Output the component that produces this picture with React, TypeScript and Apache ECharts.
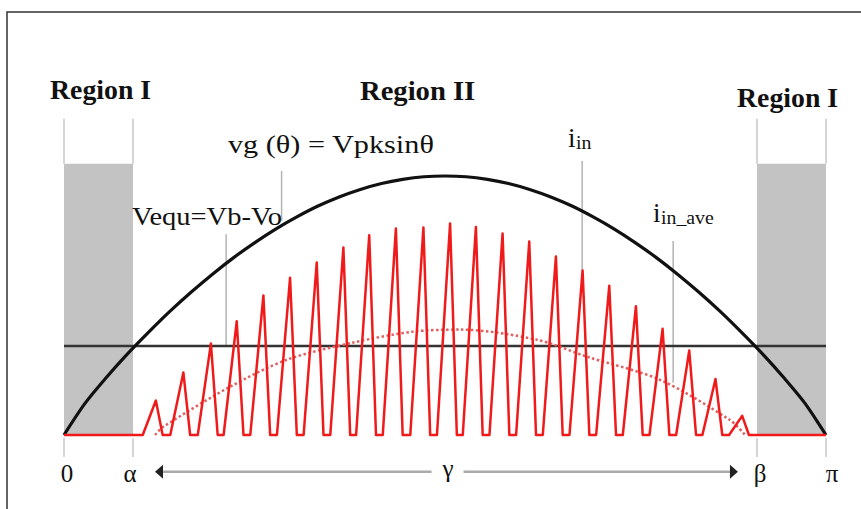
import React, { useEffect, useRef } from "react";
import * as echarts from "echarts";

// Line angle θ in degrees (0 … 180 = 0 … π) and the rectified line voltage, peak = 100
const thetaDeg = [0, 5, 10, 15, 20, 25, 30, 35, 40, 45, 50, 55, 60, 65, 70, 75, 80, 85, 90,
  95, 100, 105, 110, 115, 120, 125, 130, 135, 140, 145, 150, 155, 160, 165, 170, 175, 180];
const vgValues = [0, 12.3, 22.2, 31.3, 39.7, 47.7, 55.1, 62.0, 68.4, 74.2, 79.5, 84.2, 88.4, 91.9, 94.8, 97.1, 98.7, 99.7, 100,
  99.7, 98.7, 97.1, 94.8, 91.9, 88.4, 84.2, 79.5, 74.2, 68.4, 62.0, 55.1, 47.7, 39.7, 31.3, 22.2, 12.3, 0];

// Equivalent voltage Vb - Vo and the conduction limits α, β
const vEqu = 34.4;
const alphaDeg = 16.3;
const betaDeg = 163.7;
const regionTop = 104.7;

// Switching-cycle current peaks of i_in
const spikeCentres = [21.7, 28.2, 34.7, 40.8, 47.1, 53.4, 59.7, 66.0, 72.1, 78.4, 84.9, 91.2, 97.3, 103.6, 109.9, 116.2, 122.5, 128.8, 135.1, 141.4, 147.7, 153.9, 160.2];
const spikePeaks = [13.3, 24.1, 35.3, 43.9, 53.9, 60.7, 66.6, 72.4, 77.1, 79.7, 80.1, 81.7, 80.3, 77.8, 74.7, 68.9, 63.5, 57.6, 49.7, 41.0, 32.6, 21.6, 7.4];

// Averaged input current i_in_ave
const aveTheta = [21.5, 23.4, 39.2, 52.7, 68.3, 82.4, 93.5, 111.7, 123.6, 140.8, 157.3, 160.9];
const aveValues = [0, 3.1, 18.6, 29.1, 35.7, 39.9, 40.7, 36.8, 30.2, 21.3, 5.8, 0];

// Leader lines: [θ, from, to]
const leaders = [
  [51.4, 102, 82.6],
  [38.3, 77.5, 34.4],
  [122.4, 105.8, 63.6],
  [143.9, 74.9, 20.2],
];
// Region bracket ticks: [θ, from, to]
const bracketTicks = [
  [0, 104.7, 122.1], [alphaDeg, 104.7, 122.1], [betaDeg, 104.7, 122.1], [180, 104.7, 122.1],
  [0, -1.2, -8.5], [alphaDeg, -1.2, -8.5], [betaDeg, -1.2, -8.5], [180, -1.2, -8.5],
];
// γ span arrow: [start, end, level, label position]
const gammaSpan = [[21.5, 159.2, -14.2, 90.6]];

const RISE = 3.1;
const FALL = 1.6;

const SERIF = '"Liberation Serif", "DejaVu Serif", serif';

function currentPath(): number[][] {
  const pts: number[][] = [[0, 0]];
  spikeCentres.forEach((c, i) => {
    pts.push([c - RISE, 0], [c, spikePeaks[i]], [c + FALL, 0]);
  });
  pts.push([180, 0]);
  return pts;
}

function label(text: string, x: number, y: number, size: number, opts: any = {}) {
  const align = opts.align || "left";
  return {
    type: "text",
    x,
    y,
    scaleX: opts.scaleX ?? 1.1,
    z: 10,
    style: {
      text,
      fontSize: size,
      fontFamily: SERIF,
      fontWeight: opts.bold ? "bold" : "normal",
      fill: "#111",
      align,
      textAlign: align,
      verticalAlign: "middle",
      textVerticalAlign: "middle",
    },
  };
}

export default function App() {
  const ref = useRef<HTMLDivElement>(null);

  useEffect(() => {
    if (!ref.current) return;
    const chart = echarts.init(ref.current, undefined, { renderer: "svg" });

    const vgData = thetaDeg.map((t, i) => [t, vgValues[i]]);
    const aveData = aveTheta.map((t, i) => [t, aveValues[i]]);

    chart.setOption({
      animation: false,
      grid: { left: 64, width: 762, top: 46.5, height: 440.3 },
      xAxis: { type: "value", min: 0, max: 180, show: false },
      yAxis: { type: "value", min: -20, max: 150, show: false },
      graphic: [
        {
          type: "polyline",
          shape: { points: [[7, 600], [7, 12], [900, 12]] },
          style: { stroke: "#333", lineWidth: 1.5, fill: "none" },
          z: 0,
        },
        label("Region I", 50, 90, 27, { bold: true, scaleX: 1.03 }),
        label("Region II", 360, 91, 27, { bold: true, scaleX: 1.06 }),
        label("Region I", 737, 98, 27, { bold: true, scaleX: 1.03 }),
        label("vg (θ) = Vpksinθ", 228, 144.6, 25, { scaleX: 1.21 }),
        label("Vequ=Vb-Vo", 132, 216.6, 25, { scaleX: 1.14 }),
        label("i", 568, 138, 27, { scaleX: 1 }),
        label("in", 576, 143, 18),
        label("i", 653, 213, 27, { scaleX: 1 }),
        label("in_ave", 661, 218, 18),
        label("0", 67, 473.6, 25, { align: "center", scaleX: 1 }),
        label("α", 130, 473.6, 25, { align: "center", scaleX: 1 }),
        label("γ", 448, 468.6, 25, { align: "center", scaleX: 1 }),
        label("β", 760, 473.6, 25, { align: "center", scaleX: 1 }),
        label("π", 832, 473.6, 25, { align: "center", scaleX: 1 }),
      ],
      series: [
        {
          // Region I shading
          type: "custom",
          z: 0,
          silent: true,
          data: [[0, alphaDeg, regionTop], [betaDeg, 180, regionTop]],
          renderItem: (params: any, api: any) => {
            const p0 = api.coord([api.value(0), 0]);
            const p1 = api.coord([api.value(1), api.value(2)]);
            return {
              type: "rect",
              shape: { x: p0[0], y: p1[1], width: p1[0] - p0[0], height: p0[1] - p1[1] },
              style: { fill: "#c3c3c3" },
            };
          },
        },
        {
          // leader and bracket lines
          type: "custom",
          z: 1,
          silent: true,
          data: [...leaders, ...bracketTicks],
          renderItem: (params: any, api: any) => {
            const a = api.coord([api.value(0), api.value(1)]);
            const b = api.coord([api.value(0), api.value(2)]);
            const isBracket = params.dataIndex >= leaders.length;
            return {
              type: "line",
              shape: { x1: a[0], y1: a[1], x2: b[0], y2: b[1] },
              style: { stroke: isBracket ? "#d6d6d6" : "#b3b3b3", lineWidth: isBracket ? 2 : 1.5 },
            };
          },
        },
        {
          // γ conduction span arrow
          type: "custom",
          z: 1,
          silent: true,
          data: gammaSpan,
          renderItem: (params: any, api: any) => {
            const s = api.coord([api.value(0), api.value(2)]);
            const e = api.coord([api.value(1), api.value(2)]);
            const m = api.coord([api.value(3), api.value(2)]);
            const gap = 16;
            const ah = 8;
            const aw = 7;
            return {
              type: "group",
              children: [
                { type: "line", shape: { x1: s[0] + ah, y1: s[1], x2: m[0] - gap, y2: s[1] }, style: { stroke: "#aaa", lineWidth: 2.5 } },
                { type: "line", shape: { x1: m[0] + gap, y1: e[1], x2: e[0] - ah, y2: e[1] }, style: { stroke: "#aaa", lineWidth: 2.5 } },
                { type: "polygon", shape: { points: [[s[0], s[1]], [s[0] + ah, s[1] - aw], [s[0] + ah, s[1] + aw]] }, style: { fill: "#222" } },
                { type: "polygon", shape: { points: [[e[0], e[1]], [e[0] - ah, e[1] - aw], [e[0] - ah, e[1] + aw]] }, style: { fill: "#222" } },
              ],
            };
          },
        },
        {
          name: "Veq",
          type: "line",
          z: 3,
          symbol: "none",
          data: [[0, vEqu], [180, vEqu]],
          lineStyle: { color: "#333", width: 2.5 },
        },
        {
          name: "vg",
          type: "line",
          z: 4,
          symbol: "none",
          smooth: 0.3,
          data: vgData,
          lineStyle: { color: "#111", width: 3.2 },
        },
        {
          name: "i_in_ave",
          type: "line",
          z: 5,
          symbol: "none",
          smooth: 0.3,
          data: aveData,
          lineStyle: { color: "#e06060", width: 2.5, type: "dotted" },
        },
        {
          name: "i_in",
          type: "line",
          z: 6,
          symbol: "none",
          data: currentPath(),
          lineStyle: { color: "#f01a1a", width: 2.5, join: "round" },
        },
      ],
    });

    return () => chart.dispose();
  }, []);

  return (
    <div
      ref={ref}
      style={{ position: "fixed", left: 0, top: 0, width: 861, height: 509, background: "#fff" }}
    />
  );
}
